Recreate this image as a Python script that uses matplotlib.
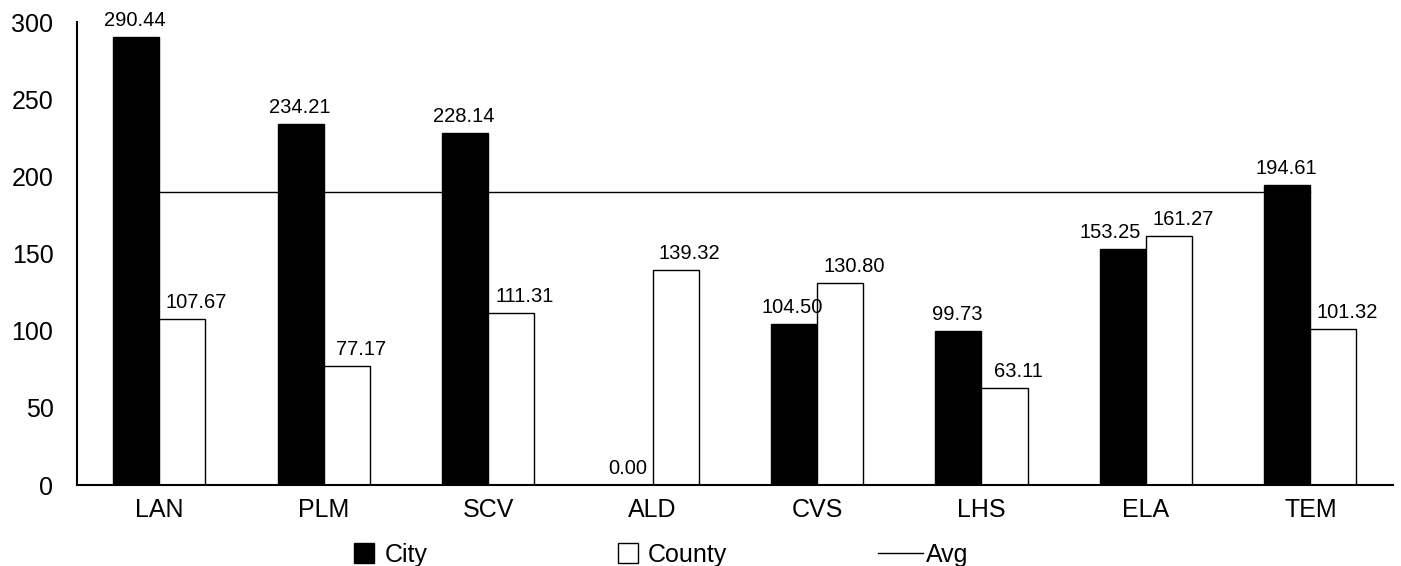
import numpy as np
import matplotlib.pyplot as plt
from matplotlib.patches import Patch
from matplotlib.lines import Line2D

plt.rcParams['font.family'] = ['Liberation Sans', 'DejaVu Sans']

categories = ['LAN', 'PLM', 'SCV', 'ALD', 'CVS', 'LHS', 'ELA', 'TEM']
city = [290.44, 234.21, 228.14, 0.00, 104.50, 99.73, 153.25, 194.61]
county = [107.67, 77.17, 111.31, 139.32, 130.80, 63.11, 161.27, 101.32]
avg = [190, 190, 190, 190, 190, 190, 190, 190]

x = np.arange(len(categories))
w = 0.28

fig = plt.figure(figsize=(14.01, 5.66), dpi=100)
ax = fig.add_axes([0.055, 0.143, 0.939, 0.818])

ax.plot(x, avg, color='black', linewidth=1, zorder=1)
ax.bar(x - w / 2, city, w, color='black', edgecolor='black', linewidth=1, zorder=2)
ax.bar(x + w / 2, county, w, color='white', edgecolor='black', linewidth=1, zorder=2)

# value labels; county ones sit a little right of centre like the original
for i in range(len(categories)):
    dx = -9 if categories[i] == 'ELA' else -1
    ax.annotate('%.2f' % city[i], (x[i] - w / 2, city[i]), xytext=(dx, 5),
                textcoords='offset points', ha='center', va='bottom', fontsize=14.5)
    ax.annotate('%.2f' % county[i], (x[i] + w / 2, county[i]), xytext=(10, 5),
                textcoords='offset points', ha='center', va='bottom', fontsize=14.5)

ax.set_xlim(-0.5, 7.5)
ax.set_ylim(0, 300)
ax.set_yticks([0, 50, 100, 150, 200, 250, 300])
ax.set_xticks(x)
ax.set_xticklabels(categories)
ax.tick_params(axis='both', length=0, labelsize=18)
ax.tick_params(axis='x', pad=9)
ax.tick_params(axis='y', pad=17)
for s in ['top', 'right']:
    ax.spines[s].set_visible(False)
ax.spines['left'].set_linewidth(1.5)
ax.spines['bottom'].set_linewidth(1.5)

handles = [
    Patch(facecolor='black', edgecolor='black', label='City'),
    Patch(facecolor='white', edgecolor='black', label='County'),
]
kw = dict(frameon=False, fontsize=18, handlelength=0.8, handleheight=0.8,
          handletextpad=0.4, borderpad=0, borderaxespad=0, loc='center left')
fig.legend(handles=[handles[0]], bbox_to_anchor=(0.253, 0.02), **kw)
fig.legend(handles=[handles[1]], bbox_to_anchor=(0.441, 0.02), **kw)
fig.legend(handles=[Line2D([], [], color='black', linewidth=1, label='Avg')],
           bbox_to_anchor=(0.627, 0.02), frameon=False, fontsize=18,
           handlelength=1.8, handletextpad=0.1, borderpad=0, borderaxespad=0,
           loc='center left')

fig.savefig('out.png', dpi=100)
